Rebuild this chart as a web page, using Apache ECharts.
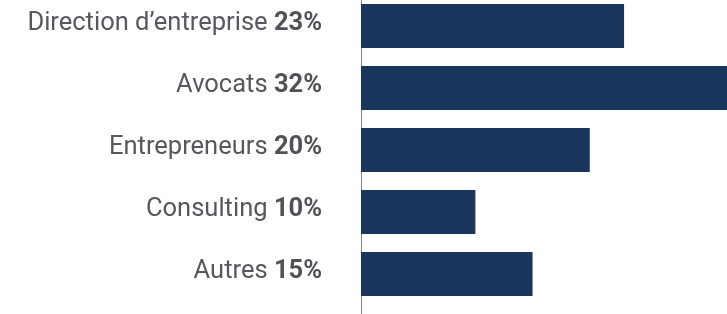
<!DOCTYPE html>
<html><head><meta charset="utf-8">
<style>html,body{margin:0;padding:0;background:#fff;overflow:hidden}#c{position:absolute;left:0;top:-5px;width:727px;height:319px}</style>
<script src="https://cdn.jsdelivr.net/npm/echarts@6/dist/echarts.min.js"></script>
</head><body><div id="c"></div>
<script>
const categories = ["Direction d\u2019entreprise", "Avocats", "Entrepreneurs", "Consulting", "Autres"];
const values = [23, 32, 20, 10, 15];
const valueLabels = ["23%", "32%", "20%", "10%", "15%"];

const chart = echarts.init(document.getElementById('c'), null, {renderer: 'canvas'});
chart.setOption({
  animation: false,
  grid: [
    {left: 361, right: 0, top: 0, height: 310, containLabel: false},
    {left: 361, right: 0, top: 0, bottom: 0, containLabel: false}
  ],
  xAxis: [
    {gridIndex: 0, type: 'value', min: 0, max: 32, show: false},
    {gridIndex: 1, type: 'value', min: 0, max: 1, show: false}
  ],
  yAxis: [
    {
      gridIndex: 0, type: 'category', inverse: true,
      data: categories.map((c, i) => c + '|' + valueLabels[i]),
      axisLine: {show: false}, axisTick: {show: false}, splitLine: {show: false},
      axisLabel: {
        margin: 39,
        formatter: v => { const p = v.split('|'); return '{n|' + p[0] + ' }{b|' + p[1] + '}'; },
        rich: {
          n: {fontFamily: 'Roboto', fontSize: 25.5, color: '#56585e', padding: [0, 0, 5, 0]},
          b: {fontFamily: 'Roboto', fontSize: 25.5, fontWeight: 'bold', color: '#505258', padding: [0, 0, 5, 0]}
        }
      }
    },
    {
      gridIndex: 1, type: 'category', data: [''],
      axisLine: {show: true, lineStyle: {color: '#888888', width: 1}},
      axisTick: {show: false}, axisLabel: {show: false}, splitLine: {show: false}
    }
  ],
  series: [{
    type: 'bar', xAxisIndex: 0, yAxisIndex: 0,
    data: values, barWidth: 44,
    itemStyle: {color: '#1a365d'},
    silent: true
  }]
});
</script></body></html>
